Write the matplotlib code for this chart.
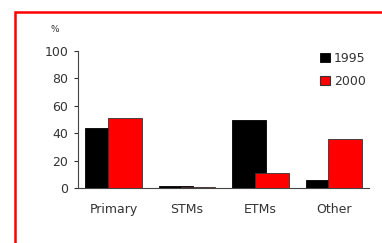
import matplotlib
matplotlib.use("Agg")
import matplotlib.pyplot as plt
from matplotlib.patches import Rectangle, Patch

categories = ["Primary", "STMs", "ETMs", "Other"]
values_1995 = [44, 1.5, 50, 5.5]
values_2000 = [51, 1, 11, 36]
series_labels = ["1995", "2000"]
y_ticks = [0, 20, 40, 60, 80, 100]

TEXT = "#333333"


def main():
    fig = plt.figure(figsize=(3.82, 2.43), dpi=100)
    ax = fig.add_axes([78 / 382, 1 - 188 / 243, (369 - 78) / 382, (188 - 51) / 243])

    xs = list(range(len(categories)))
    offset = 0.156
    width = 0.463
    ax.bar([x - offset for x in xs], values_1995, width=width, color="black",
           edgecolor="black", linewidth=0.6, zorder=2)
    ax.bar([x + offset for x in xs], values_2000, width=width, color="#ff0000",
           edgecolor="#333333", linewidth=0.6, zorder=3)

    ax.set_xlim(-0.483, 3.476)
    ax.set_ylim(0, 100)
    ax.set_yticks(y_ticks)
    ax.set_yticklabels([str(v) for v in y_ticks], fontsize=9, color=TEXT)
    ax.set_xticks(xs)
    ax.set_xticklabels(categories, fontsize=9, color=TEXT)
    ax.tick_params(axis="x", length=0, pad=11)
    ax.tick_params(axis="y", length=3, width=0.8, color="#333333", pad=4)
    for side in ["top", "right"]:
        ax.spines[side].set_visible(False)
    for side in ["left", "bottom"]:
        ax.spines[side].set_color("#444444")
        ax.spines[side].set_linewidth(0.8)

    fig.text(55 / 382, 1 - 29 / 243, "%", fontsize=6.5, color=TEXT,
             ha="center", va="center")

    handles = [Patch(facecolor="black", edgecolor="black", linewidth=0.6),
               Patch(facecolor="#ff0000", edgecolor="#333333", linewidth=0.8)]
    ax.legend(handles, series_labels, loc="upper left",
              bbox_to_anchor=(320 / 382, 1 - 52 / 243),
              bbox_transform=fig.transFigure, frameon=False, fontsize=9,
              handlelength=0.8, handleheight=0.8, handletextpad=0.3,
              labelspacing=0.8, borderpad=0, borderaxespad=0,
              labelcolor=TEXT)

    frame = Rectangle((15 / 382, -0.1), 1.0, 1 - 12 / 243 + 0.1,
                      transform=fig.transFigure, fill=False,
                      edgecolor="#ff0000", linewidth=1.8, clip_on=False)
    fig.patches.append(frame)

    fig.savefig("out.png", dpi=100)


if __name__ == "__main__":
    main()
